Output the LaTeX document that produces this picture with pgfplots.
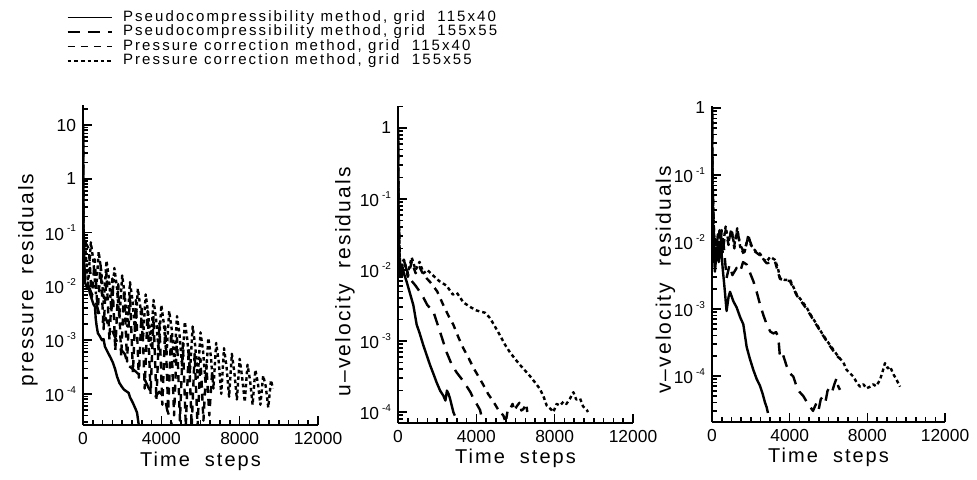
\documentclass[border=0pt]{standalone}
\usepackage{fontspec}
\setmainfont{Liberation Sans}
\newfontfamily\wide[LetterSpace=10]{Liberation Sans}
\newfontfamily\legwide[LetterSpace=14]{Liberation Sans}
\usepackage{pgfplots}
\pgfplotsset{compat=1.18}
\newcommand\ex[1]{10\,\raisebox{0.9ex}{\fontsize{5}{5}\selectfont#1}}

\pgfplotsset{
  resid/.style={
    scale only axis, width=117.5pt, xmin=0, xmax=12000,
    axis lines=left, axis line style={-, line width=1.1pt},
    tick align=inside, major tick length=4.5pt, minor tick length=2.6pt,
    every tick/.style={black, line width=0.8pt},
    xtick={0,4000,8000,12000}, xticklabels={0,4000,8000,12000}, minor x tick num=7,
    scaled x ticks=false,
    ticklabel style={font=\fontsize{8.7}{9}\selectfont},
    extra y tick labels={},
    extra y tick style={major tick length=2.6pt},
    xlabel={Time\ \ steps},
    xlabel style={font=\wide\fontsize{10}{12}\selectfont, at={(axis description cs:0.5,-0.112)}, anchor=center},
    ylabel style={font=\wide\fontsize{10.5}{12}\selectfont, anchor=center},
    every axis plot/.append style={black, line width=1.2pt, line join=round},
  },
  ps1/.style={solid},
  ps2/.style={dash pattern=on 6pt off 4pt},
  pc1/.style={dash pattern=on 3.5pt off 3pt},
  pc2/.style={dash pattern=on 1.8pt off 1.5pt},
  mylegimg/.style={legend image code/.code={\draw[##1, line width=0.8pt] (0pt,0pt) -- (22pt,0pt);}},
}

\begin{document}
\begin{tikzpicture}
\path[use as bounding box] (0,0) rectangle (488.5pt,240pt);

% (a) pressure residuals
\begin{semilogyaxis}[resid, at={(41.5pt,27.5pt)}, anchor=south west, height=160pt,
  ymin=2.65e-5, ymax=23.6,
  ytick={10,1,0.1,0.01,0.001,0.0001},
  yticklabels={10,1,\ex{-1},\ex{-2},\ex{-3},\ex{-4}},
  extra y ticks={3e-5,4e-5,5e-5,6e-5,7e-5,8e-5,9e-5,2e-4,3e-4,4e-4,5e-4,6e-4,7e-4,8e-4,9e-4,2e-3,3e-3,4e-3,5e-3,6e-3,7e-3,8e-3,9e-3,0.02,0.03,0.04,0.05,0.06,0.07,0.08,0.09,0.2,0.3,0.4,0.5,0.6,0.7,0.8,0.9,2,3,4,5,6,7,8,9,20},
  ylabel={pressure\ \ residuals},
  ylabel style={at={(axis description cs:-0.234,0.453)}},
  legend style={at={(axis description cs:-0.07,1.298)}, anchor=north west,
    draw=none, fill=none, inner sep=0pt, row sep=0pt,
    nodes={inner sep=0.25pt, text height=5.3pt, text depth=1.5pt},
    font=\legwide\fontsize{7.5}{8}\selectfont,
    /tikz/every odd column/.append style={column sep=5pt}},
  legend cell align=left,
  mylegimg,
]
\addplot[ps1] coordinates {(0,10) (25,0.1) (60,2.5e-2) (100,1.2e-2) (180,9.8e-3) (260,1.05e-2) (350,7.5e-3) (460,5.6e-3) (540,4.6e-3) (610,4.2e-3) (650,2.5e-3) (700,1.8e-3) (760,1.35e-3) (850,1.2e-3) (970,1.0e-3) (1050,1.05e-3) (1120,7.6e-4) (1280,5.8e-4) (1400,4.8e-4) (1530,3.8e-4) (1640,2.9e-4) (1740,2.1e-4) (1860,1.6e-4) (1990,1.35e-4) (2100,1.2e-4) (2250,1.1e-4) (2330,1.05e-4) (2400,8.7e-5) (2550,6.8e-5) (2680,5.3e-5) (2760,4.5e-5) (2810,3.3e-5) (2850,2.6e-5)};
\addlegendentry{Pseudocompressibility\ method,\ grid\ \ 115x40}
\addplot[ps2] coordinates {(0,10) (25,0.1) (80,2e-2) (150,1.2e-2) (250,1.1e-2) (400,8e-3) (550,6e-3) (700,4.5e-3) (870,2.7e-3) (1000,2.2e-3) (1150,2.6e-3) (1300,1.9e-3) (1480,1.55e-3) (1700,1.0e-3) (1900,7e-4) (2140,5.5e-4) (2300,3.4e-4) (2500,3.0e-4) (2700,2.6e-4) (2900,2.2e-4) (3170,1.8e-4) (3350,1.3e-4) (3500,1.05e-4) (3700,9e-5) (3900,1.1e-4) (4050,9.5e-5) (4200,8e-5) (4300,5e-5) (4450,3.5e-5) (4550,2.5e-5)};
\addlegendentry{Pseudocompressibility\ method,\ grid\ \ 155x55}
\addplot[pc1] coordinates {(0,10) (30,0.1) (150,6.3e-2) (300,5e-2) (450,6.3e-3) (600,3.2e-2) (750,3.2e-3) (900,2.5e-2) (1050,1.6e-3) (1200,1.8e-2) (1350,1e-3) (1500,1.4e-2) (1650,6.3e-4) (1800,1.1e-2) (1950,5e-4) (2100,8.9e-3) (2250,4e-4) (2400,7.1e-3) (2550,2.5e-4) (2700,5.6e-3) (2850,2e-4) (3000,4.5e-3) (3150,1.26e-4) (3300,3.5e-3) (3450,1e-4) (3600,2.8e-3) (3750,7.9e-5) (3900,2.2e-3) (4050,6.3e-5) (4200,1.8e-3) (4350,5e-5) (4500,1.4e-3) (4650,4e-5) (4800,1.1e-3) (4950,3.2e-5) (5100,8.9e-4) (5250,2.5e-5) (5400,7.1e-4) (5550,2.5e-5) (5700,5.6e-4) (5850,2.5e-5) (6000,4.5e-4) (6150,3.2e-5) (6300,3.5e-4) (6450,4e-5) (6600,2.8e-4)};
\addlegendentry{Pressure\ correction\ method,\ grid\ \ 115x40}
\addplot[pc2] coordinates {(0,10) (20,0.1) (130,4.5e-2) (260,1.1e-2) (400,6.6e-2) (530,3.0e-2) (660,7.4e-3) (800,4.4e-2) (930,1.95e-2) (1060,4.9e-3) (1200,3.0e-2) (1330,1.35e-2) (1460,3.4e-3) (1600,2.2e-2) (1730,9.8e-3) (1860,2.5e-3) (2000,1.6e-2) (2130,7.1e-3) (2260,1.8e-3) (2400,1.2e-2) (2530,5.4e-3) (2660,1.35e-3) (2800,9.1e-3) (2930,4.1e-3) (3060,1.0e-3) (3200,7.1e-3) (3330,3.2e-3) (3460,7.9e-4) (3600,5.6e-3) (3730,2.5e-3) (3860,6.3e-4) (4000,4.5e-3) (4130,2.0e-3) (4260,5.0e-4) (4400,3.5e-3) (4530,1.6e-3) (4660,4.0e-4) (4800,2.8e-3) (4930,1.26e-3) (5060,3.2e-4) (5200,2.2e-3) (5330,1.0e-3) (5460,2.5e-4) (5600,1.8e-3) (5730,7.9e-4) (5860,2.0e-4) (6000,1.4e-3) (6130,6.3e-4) (6260,1.6e-4) (6400,1.1e-3) (6530,5.0e-4) (6660,1.26e-4) (6800,8.9e-4) (6930,4.0e-4) (7060,1.0e-4) (7200,7.1e-4) (7330,3.2e-4) (7460,8.9e-5) (7600,5.6e-4) (7730,2.5e-4) (7860,7.9e-5) (8000,4.5e-4) (8130,2.0e-4) (8260,7.1e-5) (8400,3.5e-4) (8530,1.8e-4) (8660,6.3e-5) (8800,2.8e-4) (8930,1.6e-4) (9060,6.3e-5) (9200,2.2e-4) (9330,1.4e-4) (9460,5.6e-5) (9600,1.8e-4) (9700,1.26e-4)};
\addlegendentry{Pressure\ correction\ method,\ grid\ \ 155x55}
\node[font=\fontsize{10}{12}\selectfont] at (axis description cs:-0.234,-0.04) {(a)};
\end{semilogyaxis}

% u-velocity residuals
\begin{semilogyaxis}[resid, at={(199pt,28.5pt)}, anchor=south west, height=158.5pt,
  ymin=7e-5, ymax=2.04,
  ytick={1,0.1,0.01,0.001,0.0001},
  yticklabels={1,\ex{-1},\ex{-2},\ex{-3},\ex{-4}},
  extra y ticks={8e-5,9e-5,2e-4,3e-4,4e-4,5e-4,6e-4,7e-4,8e-4,9e-4,2e-3,3e-3,4e-3,5e-3,6e-3,7e-3,8e-3,9e-3,0.02,0.03,0.04,0.05,0.06,0.07,0.08,0.09,0.2,0.3,0.4,0.5,0.6,0.7,0.8,0.9,2},
  ylabel={u–velocity\ \ residuals},
  ylabel style={at={(axis description cs:-0.226,0.445)}},
]
\addplot[ps1] coordinates {(0,1) (20,0.1) (60,1.5e-2) (120,8e-3) (200,1.2e-2) (300,9e-3) (444,6.8e-3) (600,4.8e-3) (783,3.2e-3) (953,1.7e-3) (1100,1.3e-3) (1293,8.7e-4) (1450,6.5e-4) (1634,4.6e-4) (1800,3.5e-4) (1974,2.6e-4) (2150,2.0e-4) (2315,1.7e-4) (2420,1.45e-4) (2500,2.0e-4) (2580,1.8e-4) (2655,1.55e-4) (2825,1.0e-4) (2900,8.9e-5)};
\addplot[ps2] coordinates {(0,1) (20,0.1) (80,1.3e-2) (200,8e-3) (350,1.2e-2) (500,9e-3) (700,7e-3) (900,6e-3) (1100,5e-3) (1293,4.1e-3) (1500,3.2e-3) (1805,2.6e-3) (2145,1.35e-3) (2485,6.9e-4) (2750,4.6e-4) (2996,3.6e-4) (3300,2.8e-4) (3507,2.3e-4) (3700,1.9e-4) (3848,1.55e-4) (4050,1.25e-4) (4188,1.07e-4) (4250,9e-5)};
\addplot[pc1] coordinates {(0,1) (20,0.1) (100,1.2e-2) (300,1.4e-2) (500,8e-3) (700,1.3e-2) (900,9e-3) (1100,1.1e-2) (1300,8.5e-3) (1634,6.8e-3) (2000,5e-3) (2315,3.2e-3) (2600,2.2e-3) (2825,1.7e-3) (3100,1.1e-3) (3336,7.9e-4) (3600,5.8e-4) (3848,4.2e-4) (4100,3.2e-4) (4359,2.4e-4) (4600,1.8e-4) (4870,1.4e-4) (5100,1.1e-4) (5380,8.9e-5) (5500,7.2e-5) (5600,1.05e-4) (5720,1.1e-4) (5850,1.3e-4) (5950,1.05e-4) (6061,1.2e-4) (6200,1.35e-4) (6300,1.05e-4) (6400,1.1e-4) (6550,1.3e-4) (6600,1.0e-4)};
\addplot[pc2] coordinates {(0,1) (20,0.1) (100,1.1e-2) (300,1.4e-2) (500,9e-3) (700,1.5e-2) (900,1e-2) (1100,1.3e-2) (1300,9e-3) (1500,1.0e-2) (1805,8.3e-3) (2100,7e-3) (2485,6e-3) (2800,4.5e-3) (3000,4.8e-3) (3336,3.5e-3) (3700,3.0e-3) (4000,2.7e-3) (4188,2.6e-3) (4450,2.5e-3) (4699,2.1e-3) (4950,1.6e-3) (5210,1.2e-3) (5450,9e-4) (5720,6.9e-4) (6000,5.5e-4) (6231,4.6e-4) (6500,3.8e-4) (6742,3.2e-4) (7000,2.6e-4) (7253,2.1e-4) (7450,1.6e-4) (7594,1.23e-4) (7800,1.1e-4) (7934,1.0e-4) (8100,1.3e-4) (8275,1.23e-4) (8450,1.4e-4) (8600,1.3e-4) (8785,1.55e-4) (8956,1.9e-4) (9100,1.5e-4) (9296,1.55e-4) (9450,1.2e-4) (9637,1.07e-4) (9700,1.0e-4)};
\end{semilogyaxis}

% v-velocity residuals
\begin{semilogyaxis}[resid, at={(356pt,29pt)}, anchor=south west, width=116.5pt, height=158pt,
  ymin=2.05e-5, ymax=1.07,
  ytick={1,0.1,0.01,0.001,0.0001},
  yticklabels={1,\ex{-1},\ex{-2},\ex{-3},\ex{-4}},
  extra y ticks={3e-5,4e-5,5e-5,6e-5,7e-5,8e-5,9e-5,2e-4,3e-4,4e-4,5e-4,6e-4,7e-4,8e-4,9e-4,2e-3,3e-3,4e-3,5e-3,6e-3,7e-3,8e-3,9e-3,0.02,0.03,0.04,0.05,0.06,0.07,0.08,0.09,0.2,0.3,0.4,0.5,0.6,0.7,0.8,0.9},
  ylabel={v–velocity\ \ residuals},
  ylabel style={at={(axis description cs:-0.2,0.45)}},
]
\addplot[ps1] coordinates {(0,1) (20,0.1) (60,1.2e-2) (150,3.6e-3) (250,8e-3) (350,5e-3) (450,1e-2) (550,4e-3) (650,2e-3) (750,9.3e-4) (850,1.5e-3) (927,1.8e-3) (1100,1.3e-3) (1270,1.05e-3) (1450,7.5e-4) (1612,5.9e-4) (1785,2.7e-4) (1950,1.8e-4) (2128,1.23e-4) (2300,9e-5) (2472,7.1e-5) (2600,5.5e-5) (2729,4e-5) (2815,3.4e-5) (2880,2.8e-5)};
\addplot[ps2] coordinates {(0,1) (20,0.1) (80,1.5e-2) (200,6e-3) (300,1.3e-2) (400,7e-3) (500,1.5e-2) (600,9e-3) (750,2.9e-3) (900,4.5e-3) (1050,3.2e-3) (1270,4.1e-3) (1450,3.6e-3) (1600,5e-3) (1785,4.6e-3) (1950,3.5e-3) (2128,2.6e-3) (2300,1.8e-3) (2472,1.17e-3) (2650,8e-4) (2815,5.9e-4) (3000,4.6e-4) (3158,4.3e-4) (3300,4.5e-4) (3415,3.8e-4) (3500,1.9e-4) (3650,2.1e-4) (3844,1.4e-4) (4000,1.1e-4) (4187,9.8e-5) (4358,6.9e-5) (4500,5.8e-5) (4702,5e-5) (4900,4e-5) (5045,3.5e-5) (5200,3e-5) (5388,4e-5) (5500,3.2e-5) (5600,4.5e-5) (5732,5e-5) (5850,4.2e-5) (5950,6e-5) (6075,6.9e-5) (6200,6e-5) (6300,7.5e-5) (6418,9.3e-5) (6500,7e-5) (6590,6.2e-5)};
\addplot[pc1] coordinates {(0,1) (20,0.1) (100,1.4e-2) (250,6e-3) (400,1.6e-2) (550,7e-3) (700,1.5e-2) (850,9e-3) (1000,1.6e-2) (1150,8e-3) (1300,1.5e-2) (1450,9e-3) (1650,7e-3) (1870,1.2e-2) (2128,7.5e-3) (2472,6.3e-3) (2815,4.8e-3) (3244,5.1e-3) (3500,2.8e-3) (4013,2.6e-3) (4358,1.6e-3) (4873,1.0e-3) (5388,5.7e-4) (5903,3.3e-4) (6418,2.0e-4) (6600,1.8e-4)};
\addplot[pc2] coordinates {(0,1) (20,0.1) (100,1.3e-2) (250,7e-3) (400,1.5e-2) (550,8e-3) (700,1.7e-2) (850,1e-2) (1000,1.5e-2) (1150,9e-3) (1300,1.6e-2) (1450,8.5e-3) (1650,6.5e-3) (1870,1.26e-2) (2000,9e-3) (2128,8e-3) (2300,7e-3) (2472,6.7e-3) (2650,5.5e-3) (2815,5.1e-3) (3000,6e-3) (3244,5.4e-3) (3400,4e-3) (3500,2.9e-3) (3750,2.7e-3) (4013,2.75e-3) (4200,2.1e-3) (4358,1.65e-3) (4600,1.35e-3) (4873,1.05e-3) (5100,8e-4) (5388,5.9e-4) (5650,4.4e-4) (5903,3.4e-4) (6150,2.7e-4) (6418,2.1e-4) (6600,1.8e-4) (6761,1.6e-4) (6933,1.23e-4) (7100,1.1e-4) (7276,9.8e-5) (7450,8e-5) (7620,6.9e-5) (7800,7.5e-5) (7950,6.5e-5) (8135,6.9e-5) (8300,7.5e-5) (8450,7e-5) (8650,8.7e-5) (8800,1.2e-4) (8908,1.55e-4) (9050,1.3e-4) (9166,1.38e-4) (9350,1.05e-4) (9510,8.7e-5) (9682,6.9e-5)};
\end{semilogyaxis}
\end{tikzpicture}
\end{document}
